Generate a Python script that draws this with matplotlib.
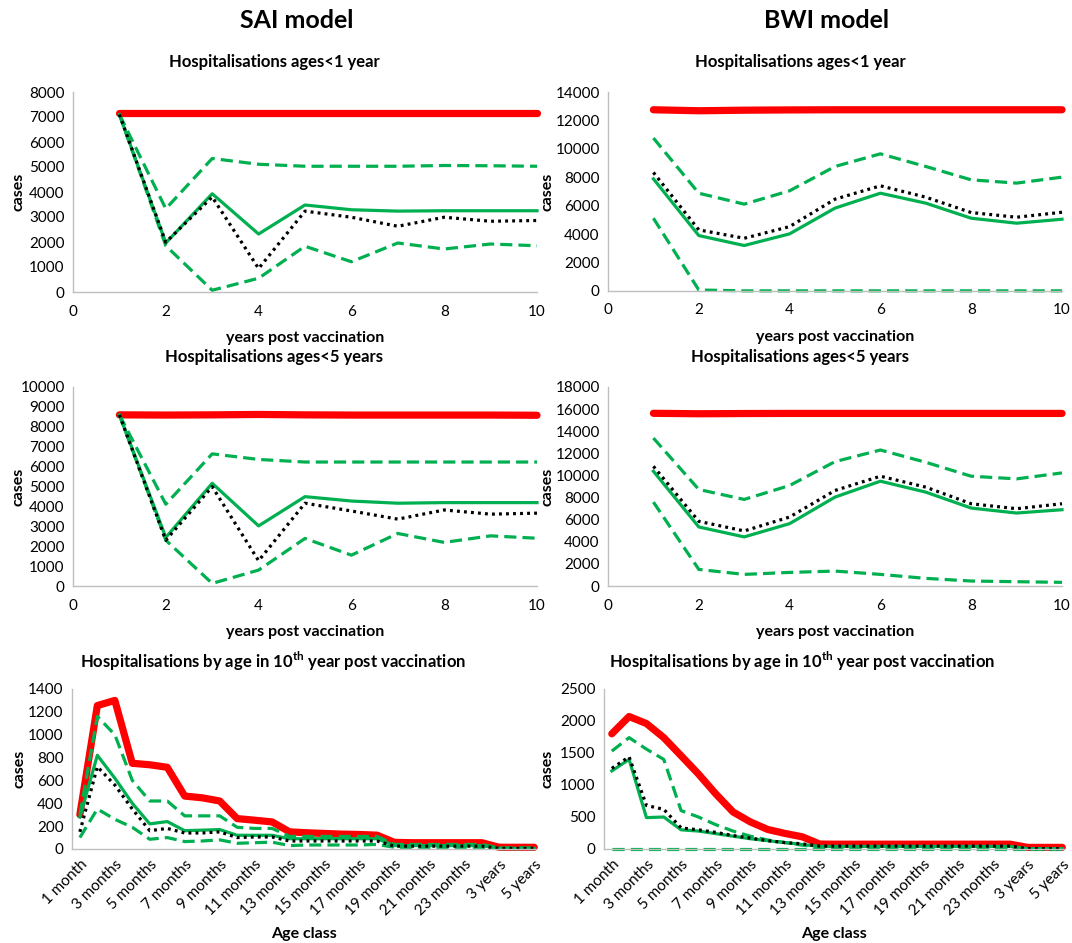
import numpy as np
import matplotlib
matplotlib.use("Agg")
from matplotlib import pyplot as plt

plt.rcParams['font.family'] = ['Lato', 'DejaVu Sans']
plt.rcParams['mathtext.fontset'] = 'custom'
plt.rcParams['mathtext.rm'] = 'Lato'
plt.rcParams['mathtext.bf'] = 'Lato:bold'

RED = '#ff0000'
GREEN = '#00b050'

years = [1, 2, 3, 4, 5, 6, 7, 8, 9, 10]

# SAI model, hospitalisations ages < 1 year
sai1_base = [7150, 7150, 7150, 7150, 7150, 7150, 7150, 7150, 7150, 7150]
sai1_hi = [7100, 3330, 5340, 5110, 5030, 5030, 5030, 5060, 5050, 5030]
sai1_mid = [7100, 1960, 3930, 2320, 3480, 3290, 3235, 3250, 3250, 3250]
sai1_lo = [7100, 1850, 70, 550, 1830, 1210, 1960, 1720, 1920, 1850]
sai1_dot = [7100, 1990, 3800, 940, 3235, 2990, 2630, 2990, 2830, 2860]

# BWI model, hospitalisations ages < 1 year
bwi1_base = [12750, 12680, 12720, 12740, 12750, 12750, 12750, 12750, 12750, 12750]
bwi1_hi = [10760, 6880, 6110, 7050, 8760, 9650, 8760, 7820, 7590, 8010]
bwi1_mid = [7890, 3900, 3200, 4020, 5830, 6880, 6180, 5120, 4770, 5050]
bwi1_lo = [5120, 70, 10, 10, 10, 10, 10, 10, 10, 10]
bwi1_dot = [8340, 4300, 3710, 4530, 6460, 7400, 6600, 5520, 5190, 5540]

# SAI model, hospitalisations ages < 5 years
sai5_base = [8600, 8590, 8600, 8620, 8600, 8590, 8590, 8590, 8590, 8580]
sai5_hi = [8600, 4110, 6640, 6360, 6230, 6230, 6230, 6230, 6230, 6230]
sai5_mid = [8600, 2440, 5160, 3020, 4490, 4270, 4160, 4190, 4190, 4190]
sai5_lo = [8600, 2300, 130, 800, 2390, 1550, 2640, 2190, 2520, 2400]
sai5_dot = [8600, 2300, 4990, 1270, 4160, 3770, 3360, 3820, 3610, 3660]

# BWI model, hospitalisations ages < 5 years
bwi5_base = [15620, 15580, 15600, 15610, 15610, 15610, 15610, 15610, 15610, 15610]
bwi5_hi = [13380, 8730, 7830, 9090, 11250, 12300, 11190, 9930, 9690, 10230]
bwi5_mid = [10380, 5340, 4440, 5640, 8040, 9480, 8490, 7050, 6600, 6900]
bwi5_lo = [7590, 1500, 1050, 1230, 1350, 1050, 690, 450, 390, 330]
bwi5_dot = [10830, 5850, 4980, 6240, 8640, 9930, 8940, 7440, 6990, 7440]

age_classes = ['1 month'] + ['%d months' % m for m in range(2, 25)] + \
    ['3 years', '4 years', '5 years']

# SAI model, by age in 10th year
saia_base = [300, 1255, 1300, 750, 737, 715, 463, 448, 420, 266, 252, 237, 150,
             142, 136, 130, 127, 121, 58, 55, 55, 55, 55, 55, 15, 15, 15]
saia_hi = [300, 1160, 1000, 600, 420, 420, 290, 290, 290, 190, 180, 180, 110,
           110, 110, 110, 110, 110, 40, 40, 40, 40, 40, 40, 10, 10, 10]
saia_mid = [280, 820, 620, 400, 220, 240, 160, 165, 170, 120, 120, 120, 90,
            90, 90, 90, 90, 90, 30, 30, 30, 30, 30, 30, 5, 5, 5]
saia_lo = [100, 350, 260, 190, 85, 100, 65, 70, 80, 50, 55, 60, 30,
           35, 35, 35, 35, 40, 15, 15, 15, 15, 15, 15, 3, 3, 3]
saia_dot = [150, 720, 560, 350, 160, 180, 140, 140, 150, 100, 105, 105, 70,
            70, 70, 70, 70, 70, 25, 25, 25, 25, 25, 25, 5, 5, 5]

# BWI model, by age in 10th year
bwia_base = [1800, 2070, 1960, 1740, 1457, 1172, 862, 578, 423, 305, 243, 190, 77,
             75, 75, 75, 75, 75, 75, 75, 75, 75, 75, 75, 25, 25, 25]
bwia_hi = [1530, 1740, 1560, 1400, 600, 500, 380, 280, 200, 140, 100, 60, 30,
           30, 30, 30, 30, 30, 30, 30, 30, 30, 30, 30, 5, 5, 5]
bwia_mid = [1220, 1400, 490, 500, 300, 280, 240, 200, 160, 130, 100, 70, 40,
            40, 40, 40, 40, 40, 40, 40, 40, 40, 40, 40, 5, 5, 5]
bwia_lo = [0] * 27
bwia_dot = [1260, 1440, 680, 620, 330, 300, 260, 210, 170, 130, 100, 80, 45,
            45, 45, 45, 45, 45, 45, 45, 45, 45, 45, 45, 5, 5, 5]

W, H = 1072, 943
fig = plt.figure(figsize=(W / 100, H / 100), dpi=100)


def box(l, t, r, b):
    return [l / W, 1 - b / H, (r - l) / W, (b - t) / H]


def draw(ax, x, base, hi, mid, lo, dot):
    kw = dict(clip_on=False)
    ax.plot(x, base, color=RED, lw=5.2, solid_capstyle='round', solid_joinstyle='round', **kw)
    ax.plot(x, hi, color=GREEN, lw=2.3, dashes=(3.8, 1.9), **kw)
    ax.plot(x, lo, color=GREEN, lw=2.3, dashes=(3.8, 1.9), **kw)
    ax.plot(x, mid, color=GREEN, lw=2.3, **kw)
    ax.plot(x, dot, color='black', lw=2.3, dashes=(0.9, 1.3), **kw)


def style(ax, rect, label_x):
    for s in ['top', 'right']:
        ax.spines[s].set_visible(False)
    for s in ['left', 'bottom']:
        ax.spines[s].set_color('#bfbfbf')
        ax.spines[s].set_linewidth(1.0)
    ax.tick_params(length=0, labelsize=11, pad=6)
    ax.set_ylabel('cases', fontsize=11.5, fontweight='bold')
    # label_x is the pixel column of the label's right edge
    ax.yaxis.set_label_coords((label_x / W - rect[0]) / rect[2], 0.5)


def year_panel(rect, label_x, data, ymax, ystep):
    ax = fig.add_axes(rect)
    draw(ax, years, *data)
    ax.set_xlim(0, 10)
    ax.set_xticks(range(0, 11, 2))
    ax.set_ylim(0, ymax)
    ax.set_yticks(range(0, ymax + 1, ystep))
    style(ax, rect, label_x)
    ax.tick_params(axis='x', pad=9)
    ax.set_xlabel('years post vaccination', fontsize=11.5, fontweight='bold', labelpad=9)
    return ax


def age_panel(rect, label_x, data, ymax, ystep):
    ax = fig.add_axes(rect)
    pos = np.arange(len(age_classes))
    draw(ax, pos, *data)
    ax.set_xlim(-0.45, 26.1)
    ax.set_xticks(pos[::2])
    ax.set_xticklabels(age_classes[::2], rotation=45, ha='right', rotation_mode='anchor')
    ax.set_ylim(0, ymax)
    ax.set_yticks(range(0, ymax + 1, ystep))
    style(ax, rect, label_x)
    ax.tick_params(axis='x', pad=6)
    ax.set_xlabel('Age class', fontsize=11.5, fontweight='bold', labelpad=6)
    return ax


year_panel(box(73, 92, 537, 292), 26, (sai1_base, sai1_hi, sai1_mid, sai1_lo, sai1_dot), 8000, 1000)
year_panel(box(608, 92, 1062, 291), 555, (bwi1_base, bwi1_hi, bwi1_mid, bwi1_lo, bwi1_dot), 14000, 2000)
year_panel(box(73, 387, 537, 586), 26, (sai5_base, sai5_hi, sai5_mid, sai5_lo, sai5_dot), 10000, 1000)
year_panel(box(608, 387, 1062, 586), 555, (bwi5_base, bwi5_hi, bwi5_mid, bwi5_lo, bwi5_dot), 18000, 2000)
age_panel(box(72, 689, 536, 849), 26, (saia_base, saia_hi, saia_mid, saia_lo, saia_dot), 1400, 200)
age_panel(box(604, 689, 1064, 849), 555, (bwia_base, bwia_hi, bwia_mid, bwia_lo, bwia_dot), 2500, 500)

# column headings and panel titles
fig.text(297 / W, 1 - 20 / H, 'SAI model', fontsize=18, fontweight='bold', ha='center', va='center')
fig.text(827 / W, 1 - 20 / H, 'BWI model', fontsize=18, fontweight='bold', ha='center', va='center')
t1 = 'Hospitalisations ages<1 year'
t5 = 'Hospitalisations ages<5 years'
ta = r'Hospitalisations by age in 10$^{\mathbf{th}}$ year post vaccination'
for cx in (274, 800):
    fig.text(cx / W, 1 - 62 / H, t1, fontsize=12, fontweight='bold', ha='center', va='center')
    fig.text(cx / W, 1 - 357 / H, t5, fontsize=12, fontweight='bold', ha='center', va='center')
fig.text(273 / W, 1 - 661 / H, ta, fontsize=12, fontweight='bold', ha='center', va='center')
fig.text(802 / W, 1 - 661 / H, ta, fontsize=12, fontweight='bold', ha='center', va='center')

fig.savefig('out.png', dpi=100)
